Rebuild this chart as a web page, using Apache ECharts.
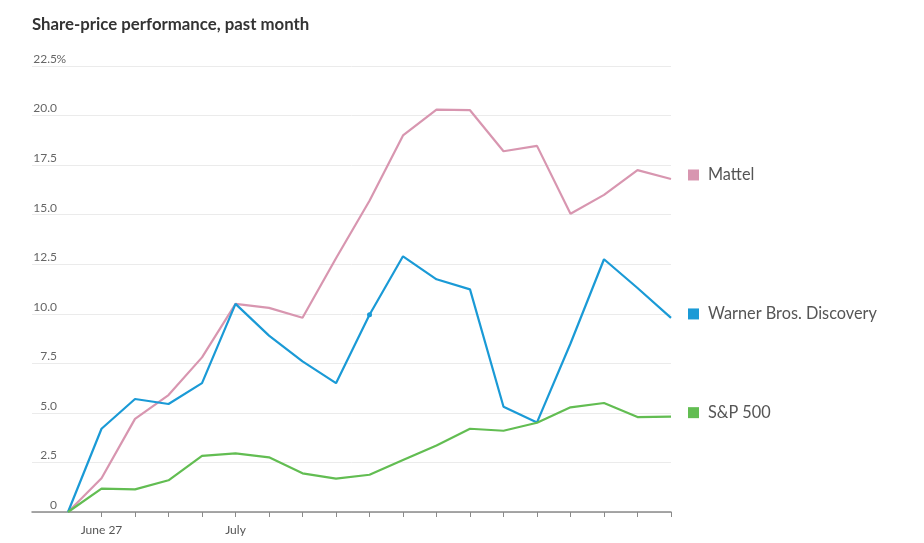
<!DOCTYPE html>
<html>
<head>
<meta charset="utf-8">
<script src="https://cdn.jsdelivr.net/npm/echarts@6/dist/echarts.min.js"></script>
<style>
  html, body { margin: 0; padding: 0; background: #fff; }
  #chart { width: 924px; height: 543px; }
</style>
</head>
<body>
<div id="chart"></div>
<script>
// ---- Data ----
const categories = ['June 24','June 27','June 28','June 29','June 30','July 1','July 5','July 6','July 7','July 8','July 11','July 12','July 13','July 14','July 15','July 18','July 19','July 20','July 21'];
const tickLabelIndex = [1, 5];
const tickLabelText = ['June 27', 'July'];
const mattel = [0, 1.7, 4.7, 5.9, 7.8, 10.5, 10.3, 9.8, 12.8, 15.7, 19.0, 20.3, 20.27, 18.2, 18.47, 15.05, 16.0, 17.25, 16.8];
const wbd    = [0, 4.2, 5.7, 5.45, 6.5, 10.5, 8.9, 7.6, 6.5, 9.95, 12.9, 11.74, 11.23, 5.31, 4.52, 8.5, 12.75, 11.3, 9.79];
const sp500  = [0, 1.18, 1.14, 1.6, 2.83, 2.96, 2.76, 1.95, 1.68, 1.88, 2.62, 3.36, 4.2, 4.1, 4.5, 5.28, 5.5, 4.79, 4.81];
const highlightIndex = 9; // small dot on Warner Bros. Discovery
const seriesNames = ['Mattel', 'Warner Bros. Discovery', 'S&P 500'];
const colors = ['#d896b0', '#1a9ad6', '#62bd52'];
const yTicks = { min: 0, max: 22.5, interval: 2.5 };

const FONT = 'Lato, "Noto Sans", sans-serif';

function toPairs(arr, withDot) {
  return arr.map((v, i) => {
    if (withDot && i === highlightIndex) {
      return { value: [i, v], symbol: 'circle', symbolSize: 5 };
    }
    return [i, v];
  });
}

function makeSeries(name, arr, color, withDot) {
  return {
    name: name,
    type: 'line',
    data: toPairs(arr, withDot),
    symbol: 'none',
    showSymbol: true,
    lineStyle: { color: color, width: 2.2 },
    itemStyle: { color: color },
    emphasis: { disabled: true },
    silent: true,
    endLabel: {
      show: true,
      distance: 17,
      offset: [0, -4],
      formatter: p => '{sq| }{t|' + p.seriesName + '}',
      rich: {
        sq: { width: 11, height: 11, backgroundColor: color },
        t: { fontFamily: FONT, fontSize: 16.3, color: '#555', padding: [0, 0, 0, 9] }
      }
    }
  };
}

const chart = echarts.init(document.getElementById('chart'));
chart.setOption({
  animation: false,
  backgroundColor: '#fff',
  title: {
    text: 'Share-price performance, past month',
    left: 27,
    top: 11,
    textStyle: { fontFamily: FONT, fontSize: 16.8, fontWeight: 'bold', color: '#333' }
  },
  grid: { left: 32, right: 253, top: 66, bottom: 31, containLabel: false },
  xAxis: {
    type: 'value',
    min: -1.075,
    max: categories.length - 1,
    splitLine: { show: false },
    axisLine: { show: true, lineStyle: { color: '#8a8a8a', width: 1.5 } },
    axisTick: {
      show: true,
      length: 5,
      lineStyle: { color: '#8a8a8a', width: 1 },
      customValues: categories.map((_, i) => i).slice(1)
    },
    axisLabel: {
      customValues: tickLabelIndex,
      formatter: v => tickLabelText[tickLabelIndex.indexOf(Math.round(v))] || '',
      fontFamily: FONT,
      fontSize: 12,
      color: '#555',
      margin: 12
    }
  },
  yAxis: {
    type: 'value',
    min: yTicks.min,
    max: yTicks.max,
    interval: yTicks.interval,
    axisLine: { show: false },
    axisTick: { show: false },
    splitLine: { show: true, lineStyle: { color: '#ebebeb', width: 1 } },
    axisLabel: {
      inside: true,
      margin: 34,
      align: 'right',
      verticalAlign: 'bottom',
      padding: [0, 0, 1, 0],
      formatter: v => {
        if (v === yTicks.max) return '{a|' + v.toFixed(1) + '}{p|%}';
        if (v === 0) return '{a|0}{p| }';
        return '{a|' + v.toFixed(1) + '}{p| }';
      },
      rich: {
        a: { fontFamily: FONT, fontSize: 12, color: '#666' },
        p: { fontFamily: FONT, fontSize: 12, color: '#666', width: 9 }
      }
    }
  },
  series: [
    makeSeries(seriesNames[0], mattel, colors[0], false),
    makeSeries(seriesNames[1], wbd, colors[1], true),
    makeSeries(seriesNames[2], sp500, colors[2], false)
  ]
});
</script>
</body>
</html>
